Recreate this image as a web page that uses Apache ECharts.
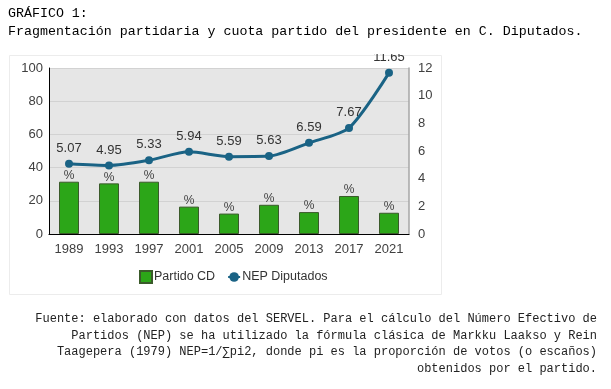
<!DOCTYPE html>
<html><head><meta charset="utf-8">
<script src="https://cdn.jsdelivr.net/npm/echarts@6/dist/echarts.min.js"></script>
<style>html,body{margin:0;padding:0;background:#fff}#c{width:611px;height:389px}</style>
</head><body><div id="c"></div>
<script>
var categories = ['1989','1993','1997','2001','2005','2009','2013','2017','2021'];
var partidoCD = [31.5, 30.5, 31.5, 16.5, 12.3, 17.6, 13.2, 22.9, 12.8];
var nepDiputados = [5.07, 4.95, 5.33, 5.94, 5.59, 5.63, 6.59, 7.67, 11.65];
var leftTicks = [0, 20, 40, 60, 80, 100];
var rightTicks = [0, 2, 4, 6, 8, 10, 12];
var titleLines = ['GRÁFICO 1:', 'Fragmentación partidaria y cuota partido del presidente en C. Diputados.'];
var noteLines = [
  'Fuente: elaborado con datos del SERVEL. Para el cálculo del Número Efectivo de',
  'Partidos (NEP) se ha utilizado la fórmula clásica de Markku Laakso y Rein',
  'Taagepera (1979) NEP=1/∑pi2, donde pi es la proporción de votos (o escaños)',
  'obtenidos por el partido.'
];

var chart = echarts.init(document.getElementById('c'));
var mono = '"Liberation Mono", "DejaVu Sans Mono", monospace';
var sans = '"Liberation Sans", Arial, sans-serif';
var graphics = [
  {type:'rect', shape:{x:9.5,y:55.5,width:432,height:239}, style:{fill:'none', stroke:'#ececec', lineWidth:1}, z:0, silent:true},
  {type:'rect', shape:{x:0,y:0,width:611,height:54}, style:{fill:'#fff'}, z:50, silent:true},
  {type:'text', left:8, top:7, style:{text:titleLines[0], font:'13.3px '+mono, fill:'#000'}, z:60},
  {type:'text', left:8, top:25, style:{text:titleLines[1], font:'13.3px '+mono, fill:'#000'}, z:60}
];
noteLines.forEach(function(t,i){
  graphics.push({type:'text', right:14, top:313+i*16.6, style:{text:t, font:'12px '+mono, fill:'#222', textAlign:'right'}, z:60});
});

chart.setOption({
  animation:false,
  backgroundColor:'#fff',
  grid:{left:49, right:202, top:68, bottom:155, show:true, backgroundColor:'#e6e6e6', borderWidth:0},
  legend:{
    top:265, left:134, itemGap:12, itemWidth:12, itemHeight:12,
    textStyle:{fontFamily:sans, fontSize:12.5, color:'#333', padding:[0,0,0,-3]},
    data:[{name:'Partido CD', icon:'rect'}, {name:'NEP Diputados'}]
  },
  xAxis:{
    type:'category', data:categories,
    axisLine:{lineStyle:{color:'#000', width:1.2}},
    axisTick:{show:false},
    axisLabel:{fontFamily:sans, fontSize:13, color:'#404040', margin:9}
  },
  yAxis:[
    {type:'value', min:0, max:100, interval:20,
     axisLine:{show:true, lineStyle:{color:'#000', width:1}},
     axisTick:{show:false},
     axisLabel:{fontFamily:sans, fontSize:13, color:'#404040', margin:6},
     splitLine:{lineStyle:{color:'#d2d2d2'}}},
    {type:'value', min:0, max:12, interval:2, position:'right',
     axisLine:{show:true, lineStyle:{color:'#a6a6a6', width:1.5}},
     axisTick:{show:false},
     axisLabel:{fontFamily:sans, fontSize:13, color:'#404040', margin:9},
     splitLine:{show:false}}
  ],
  series:[
    {name:'Partido CD', type:'bar', data:partidoCD, barWidth:20, yAxisIndex:0,
     itemStyle:{color:'#2ca618', borderColor:'#3a5a2a', borderWidth:1},
     label:{show:true, position:'top', formatter:'%', fontFamily:sans, fontSize:12, color:'#404040', distance:0}},
    {name:'NEP Diputados', type:'line', data:nepDiputados, yAxisIndex:1, smooth:0.25,
     symbol:'circle', symbolSize:8,
     lineStyle:{color:'#1a6385', width:3},
     itemStyle:{color:'#1a6385'},
     label:{show:true, position:'top', distance:5, fontFamily:sans, fontSize:13, color:'#333',
       formatter:function(p){return p.value.toFixed(2);}},
     z:5}
  ],
  graphic:graphics
});
</script></body></html>
